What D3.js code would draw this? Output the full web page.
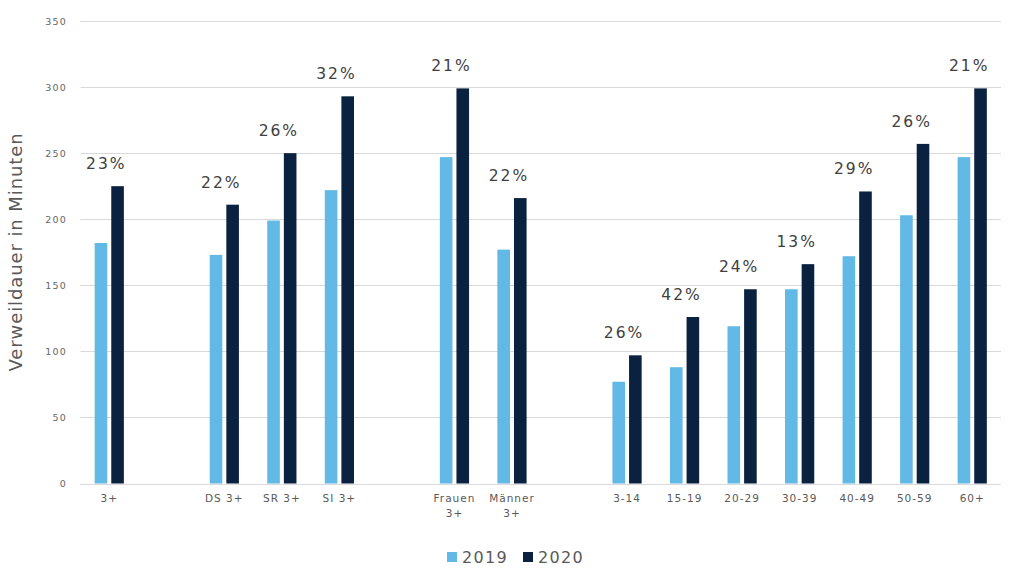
<!DOCTYPE html>
<html>
<head>
<meta charset="utf-8">
<script src="https://cdn.jsdelivr.net/npm/d3@7"></script>
<style>
  html, body { margin: 0; padding: 0; background: #fff; }
  svg { display: block; font-family: "DejaVu Sans", Verdana, sans-serif; }
</style>
</head>
<body>
<svg id="chart" width="1024" height="586"></svg>
<script>
// ---- Data ----
const categories = ["3+", "", "DS 3+", "SR 3+", "SI 3+", " ", "Frauen 3+", "Männer 3+", "  ",
                    "3-14", "15-19", "20-29", "30-39", "40-49", "50-59", "60+"];
const values2019 = [182, null, 173, 199, 222, null, 247, 177, null, 77, 88, 119, 147, 172, 203, 247];
const values2020 = [225, null, 211, 250, 293, null, 299, 216, null, 97, 126, 147, 166, 221, 257, 299];
const changeLabels = ["23%", null, "22%", "26%", "32%", null, "21%", "22%", null,
                      "26%", "42%", "24%", "13%", "29%", "26%", "21%"];
const yTicks = [0, 50, 100, 150, 200, 250, 300, 350];
const seriesNames = ["2019", "2020"];
const colors = ["#62B9E5", "#0A2240"];

// ---- Layout ----
const svg = d3.select("#chart");
const plotLeft = 80.5, plotRight = 1001, plotTop = 21, plotBottom = 483.5;

const x = d3.scaleBand().domain(categories).range([plotLeft, plotRight]).paddingInner(0).paddingOuter(0);
const y = d3.scaleLinear().domain([0, 350]).range([plotBottom, plotTop]);
const barW = 12.6, gap = 4;

// gridlines
svg.append("g").selectAll("line").data(yTicks).join("line")
  .attr("x1", plotLeft).attr("x2", plotRight)
  .attr("y1", d => Math.round(y(d)) + 0.5).attr("y2", d => Math.round(y(d)) + 0.5)
  .attr("stroke", "#d9d9d9").attr("stroke-width", 1.2);

// y tick labels
svg.append("g").selectAll("text").data(yTicks).join("text")
  .attr("x", 67).attr("y", d => y(d) + 3.5)
  .attr("text-anchor", "end")
  .attr("font-size", 9.5).attr("letter-spacing", 1.2)
  .attr("fill", "#666666")
  .text(d => d);

// y axis title
svg.append("text")
  .attr("transform", `translate(22,252) rotate(-90)`)
  .attr("text-anchor", "middle")
  .attr("font-size", 18).attr("letter-spacing", 0.9)
  .attr("fill", "#595959")
  .text("Verweildauer in Minuten");

// bars
const idx = d3.range(categories.length);
const barsG = svg.append("g");
[values2019, values2020].forEach((vals, s) => {
  barsG.append("g").selectAll("rect")
    .data(idx.filter(i => vals[i] != null))
    .join("rect")
    .attr("x", i => x(categories[i]) + x.bandwidth() / 2 + (s === 0 ? -(barW + gap / 2) : gap / 2))
    .attr("y", i => y(vals[i]))
    .attr("width", barW)
    .attr("height", i => y(0) - y(vals[i]))
    .attr("fill", colors[s]);
});

// percentage labels
svg.append("g").selectAll("text")
  .data(idx.filter(i => changeLabels[i] != null))
  .join("text")
  .attr("x", i => x(categories[i]) + x.bandwidth() / 2 - 3)
  .attr("y", i => y(values2020[i]) - 17)
  .attr("text-anchor", "middle")
  .attr("font-size", 15.5).attr("letter-spacing", 2)
  .attr("fill", "#404040")
  .text(i => changeLabels[i]);

// x labels (wrap Frauen/Männer onto two lines)
const xl = svg.append("g");
idx.forEach(i => {
  const c = categories[i].trim();
  if (!c) return;
  const cx = x(categories[i]) + x.bandwidth() / 2;
  const lines = (c.startsWith("Frauen") || c.startsWith("Männer")) ? c.split(" ") : [c];
  const t = xl.append("text")
    .attr("x", cx).attr("y", 502)
    .attr("text-anchor", "middle")
    .attr("font-size", 10.5).attr("letter-spacing", 1)
    .attr("fill", "#595959");
  lines.forEach((ln, k) => {
    t.append("tspan").attr("x", cx).attr("dy", k === 0 ? 0 : 15).text(ln);
  });
});

// legend
const legendX = [447, 523];
seriesNames.forEach((name, s) => {
  svg.append("rect")
    .attr("x", legendX[s]).attr("y", 552).attr("width", 10).attr("height", 10)
    .attr("fill", colors[s]);
  svg.append("text")
    .attr("x", legendX[s] + 15).attr("y", 562.5)
    .attr("font-size", 16).attr("letter-spacing", 1.3)
    .attr("fill", "#595959")
    .text(name);
});
</script>
</body>
</html>
